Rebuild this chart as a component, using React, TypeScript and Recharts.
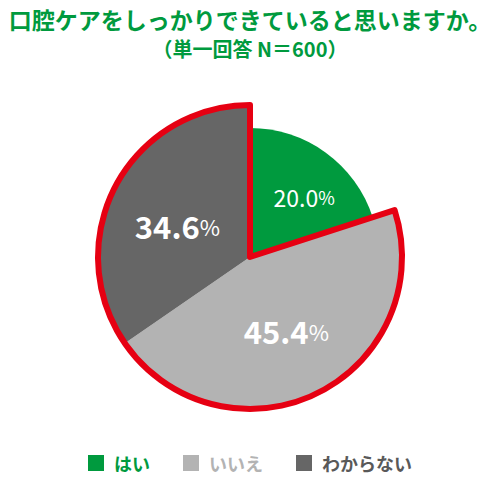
import { Cell, Pie, PieChart } from "recharts";

const categories = ["はい", "いいえ", "わからない"];
const values = [20.0, 45.4, 34.6];
const colors = ["#009a3e", "#b3b3b3", "#666666"];
const legendText = ["#009a3e", "#b3b3b3", "#595959"];

const green = [{ name: categories[0], v: values[0] }, { name: "rest", v: values[1] + values[2] }];
const slices = categories.map((name, i) => ({ name, v: values[i] }));

const font = '"Noto Sans CJK JP", "Noto Sans", sans-serif';
const RAD = Math.PI / 180;

const renderLabel = (props: any) => {
	const { cx, cy, midAngle, index } = props;
	const r = 82;
	let x = cx + r * Math.cos(-midAngle * RAD);
	let y = cy + r * Math.sin(-midAngle * RAD);
	if (index === 0) {
		x += 6;
		y += 6;
	}
	if (index === 2) y += 7;
	const bold = index !== 0;
	return (
		<text
			x={x}
			y={y}
			textAnchor="middle"
			dominantBaseline="central"
			fill="#fff"
			fontFamily={font}
			fontWeight={bold ? 700 : 400}
			fontSize={bold ? 31 : 23}
		>
			{values[index].toFixed(1)}
			<tspan fontSize={bold ? 22 : 18} fontWeight={400}>%</tspan>
		</text>
	);
};

export default function App() {
	return (
		<div style={{ position: "relative", width: 500, height: 479, fontFamily: font, background: "#fff" }}>
			<style>{`body{margin:0}`}</style>
			<div style={{ position: "absolute", top: 8, left: 0, width: 500, textAlign: "center", color: "#009a3e", fontWeight: 700, fontSize: 23, lineHeight: "23px", whiteSpace: "nowrap" }}>
				口腔ケアをしっかりできていると思いますか。
			</div>
			<div style={{ position: "absolute", top: 39, left: 0, width: 500, textAlign: "center", color: "#009a3e", fontWeight: 700, fontSize: 20, lineHeight: "20px" }}>
				（単一回答 N＝600）
			</div>
			<PieChart width={500} height={479} margin={{ top: 0, right: 0, bottom: 0, left: 0 }} style={{ position: "absolute", top: 0, left: 0 }}>
				<Pie
					data={green}
					dataKey="v"
					cx={250}
					cy={257}
					outerRadius={129}
					startAngle={90}
					endAngle={-270}
					stroke="none"
					isAnimationActive={false}
				>
					<Cell fill={colors[0]} />
					<Cell fill="transparent" />
				</Pie>
				<Pie
					data={slices}
					dataKey="v"
					cx={250}
					cy={257}
					outerRadius={152}
					startAngle={90}
					endAngle={-270}
					stroke="none"
					isAnimationActive={false}
					label={renderLabel}
					labelLine={false}
				>
					<Cell fill="transparent" />
					<Cell fill={colors[1]} />
					<Cell fill={colors[2]} />
				</Pie>
				<Pie
					data={green}
					dataKey="v"
					cx={250}
					cy={257}
					outerRadius={152}
					startAngle={90}
					endAngle={-270}
					isAnimationActive={false}
				>
					<Cell fill="none" stroke="none" />
					<Cell fill="none" stroke="#e60012" strokeWidth={6} strokeLinejoin="round" />
				</Pie>
			</PieChart>
			<div style={{ position: "absolute", top: 451, left: 0, width: 500, display: "flex", justifyContent: "center" }}>
				{categories.map((c, i) => (
					<div key={c} style={{ display: "flex", alignItems: "center", marginLeft: i === 0 ? 0 : 33 }}>
						<span style={{ width: 16, height: 16, background: colors[i], display: "inline-block", marginRight: 10 }} />
						<span style={{ color: legendText[i], fontWeight: 700, fontSize: 18, lineHeight: "24px" }}>{c}</span>
					</div>
				))}
			</div>
		</div>
	);
}
